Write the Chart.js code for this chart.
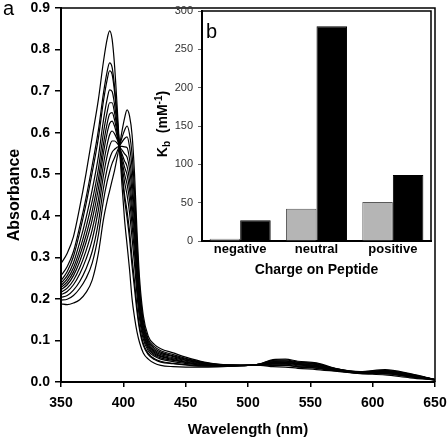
<!DOCTYPE html>
<html><head><meta charset="utf-8">
<script src="https://cdn.jsdelivr.net/npm/chart.js@4.4.0/dist/chart.umd.min.js"></script>
<style>
html,body{margin:0;padding:0;background:#fff;}
#wrap{position:relative;width:448px;height:442px;overflow:hidden;background:#fff;}
#main{position:absolute;left:0;top:0;}
#inset{position:absolute;left:140px;top:0;}
.lbl{position:absolute;font-family:'Liberation Sans',Arial,sans-serif;font-size:20px;line-height:20px;color:#000;}
</style></head><body>
<div id="wrap">
<canvas id="main" width="448" height="442" style="width:448px;height:442px"></canvas>
<canvas id="inset" width="300" height="290" style="width:300px;height:290px"></canvas>
<div class="lbl" style="left:3px;top:-2px">a</div>
<div class="lbl" style="left:206px;top:21px">b</div>
</div>
<script>
// ---- Panel a: absorbance spectra (wavelength in nm) ----
const wavelengths = [350,355,360,365,370,375,380,384,387,389,391,393,395,397,399,401,403,405,407,409,411,413,416,420,425,430,440,450,465,480,500,510,520,530,540,555,570,590,610,630,650];

const spectrum0  = [.285,.31,.35,.42,.50,.59,.68,.77,.825,.845,.825,.76,.665,.56,.47,.39,.33,.27,.20,.155,.12,.095,.07,.055,.045,.04,.037,.036,.036,.037,.04,.04,.037,.036,.033,.03,.026,.02,.017,.01,.005];
const spectrum1  = [.256,.278,.314,.374,.442,.521,.606,.694,.747,.768,.757,.710,.640,.562,.497,.439,.395,.344,.279,.224,.168,.126,.088,.066,.054,.048,.044,.041,.038,.038,.040,.041,.040,.040,.036,.033,.027,.021,.020,.012,.005];
const spectrum2  = [.244,.266,.302,.360,.427,.504,.587,.675,.727,.749,.740,.697,.634,.563,.504,.451,.411,.363,.299,.241,.180,.134,.093,.069,.056,.050,.045,.042,.039,.038,.040,.041,.041,.041,.037,.034,.028,.021,.020,.013,.005];
const spectrum3  = [.238,.256,.287,.336,.394,.462,.543,.629,.681,.703,.699,.667,.619,.564,.520,.481,.450,.407,.346,.283,.209,.152,.103,.075,.062,.055,.049,.045,.040,.039,.040,.041,.043,.043,.039,.036,.029,.022,.022,.014,.005];
const spectrum4  = [.232,.248,.275,.318,.371,.435,.513,.599,.649,.672,.672,.647,.609,.565,.531,.500,.476,.437,.378,.310,.228,.165,.111,.080,.065,.058,.052,.047,.041,.039,.040,.042,.045,.045,.041,.037,.029,.022,.023,.015,.005];
const spectrum5  = [.227,.241,.265,.304,.352,.411,.488,.572,.622,.645,.648,.630,.600,.565,.540,.517,.499,.462,.405,.334,.245,.176,.117,.084,.068,.061,.054,.048,.042,.040,.040,.042,.046,.046,.042,.038,.030,.023,.024,.015,.006];
const spectrum6  = [.222,.234,.256,.290,.335,.390,.465,.550,.599,.622,.628,.615,.592,.566,.548,.532,.519,.485,.429,.355,.259,.185,.122,.087,.071,.063,.056,.050,.043,.040,.040,.042,.047,.047,.043,.039,.030,.023,.025,.016,.006];
const spectrum7  = [.216,.226,.245,.275,.315,.366,.439,.523,.571,.595,.604,.597,.584,.567,.558,.549,.541,.511,.457,.379,.276,.196,.129,.091,.074,.066,.058,.052,.044,.040,.040,.043,.048,.048,.044,.040,.031,.023,.025,.017,.006];
const spectrum8  = [.210,.218,.234,.260,.295,.342,.414,.496,.544,.568,.580,.580,.575,.567,.567,.566,.564,.536,.484,.403,.293,.207,.135,.095,.077,.069,.061,.053,.045,.041,.040,.043,.049,.050,.045,.042,.031,.024,.026,.017,.006];
const spectrum9  = [.204,.208,.221,.242,.272,.314,.384,.466,.513,.537,.553,.560,.565,.568,.578,.586,.590,.566,.516,.431,.312,.219,.142,.099,.081,.072,.063,.055,.046,.041,.040,.043,.051,.051,.047,.043,.032,.024,.027,.018,.006];
const spectrum10 = [.197,.199,.208,.225,.249,.286,.354,.436,.482,.506,.526,.540,.555,.569,.589,.606,.616,.596,.548,.459,.331,.231,.149,.103,.085,.075,.066,.057,.047,.041,.040,.044,.052,.053,.048,.044,.032,.024,.028,.019,.006];
const spectrum11 = [.188,.186,.19,.198,.215,.245,.31,.39,.435,.46,.485,.51,.54,.57,.605,.635,.655,.64,.595,.50,.36,.25,.16,.11,.09,.08,.07,.06,.048,.042,.04,.044,.054,.055,.05,.046,.033,.025,.03,.02,.006];
const spectra = [spectrum0,spectrum1,spectrum2,spectrum3,spectrum4,spectrum5,spectrum6,spectrum7,spectrum8,spectrum9,spectrum10,spectrum11];

// ---- Panel b: binding constants ----
const chargeCategories = ['negative','neutral','positive'];
const kbGray  = [3, 42, 51];
const kbBlack = [27, 280, 86];

const FONT = "'Liberation Sans', Arial, Helvetica, sans-serif";
Chart.defaults.font.family = FONT;
Chart.defaults.color = '#000';

const frameMain = {
  id:'frameMain',
  afterDraw(chart){
    const {ctx, chartArea:a} = chart;
    ctx.save(); ctx.strokeStyle='#000'; ctx.lineWidth=1.5;
    ctx.beginPath(); ctx.moveTo(a.left, a.top); ctx.lineTo(a.right, a.top); ctx.lineTo(a.right, a.bottom); ctx.stroke();
    ctx.restore();
  }
};

new Chart(document.getElementById('main'), {
  type:'line',
  data:{
    datasets: spectra.map(s => ({
      data: s.map((v,i) => ({x: wavelengths[i], y: v})),
      borderColor:'#000', borderWidth:1.2, pointRadius:0, fill:false,
      cubicInterpolationMode:'monotone'
    }))
  },
  options:{
    responsive:false, animation:false, events:[],
    layout:{padding:{top:8, right:13, left:0, bottom:0}},
    plugins:{legend:{display:false}, tooltip:{enabled:false}},
    scales:{
      x:{type:'linear', min:350, max:650,
        ticks:{stepSize:50, color:'#000', font:{size:14, weight:'bold'}, padding:8, maxRotation:0, autoSkip:false},
        grid:{drawOnChartArea:false, drawTicks:true, tickLength:5, color:'#000', lineWidth:1.5},
        border:{display:true, color:'#000', width:2},
        title:{display:true, text:'Wavelength (nm)', color:'#000', font:{size:15, weight:'bold'}, padding:{top:0, bottom:3}},
        afterFit(s){ s.height = 60; s.paddingLeft = 0; s.paddingRight = 0; }
      },
      y:{type:'linear', min:0, max:0.9,
        ticks:{stepSize:0.1, color:'#000', font:{size:14, weight:'bold'}, padding:5, callback:v => Number(v).toFixed(1)},
        grid:{drawOnChartArea:false, drawTicks:true, tickLength:6, color:'#000', lineWidth:1.5},
        border:{display:true, color:'#000', width:2},
        title:{display:true, text:'Absorbance', color:'#000', font:{size:16, weight:'bold'}, padding:{top:5, bottom:0}},
        afterFit(s){ s.width = 61; s.paddingTop = 0; s.paddingBottom = 0; }
      }
    }
  },
  plugins:[frameMain]
});

const insetDeco = {
  id:'insetDeco',
  beforeDraw(chart){
    const {ctx, chartArea:a} = chart;
    ctx.save(); ctx.fillStyle='#fff'; ctx.fillRect(a.left, a.top, a.right-a.left, a.bottom-a.top); ctx.restore();
  },
  afterDraw(chart){
    const {ctx, chartArea:a} = chart;
    ctx.save(); ctx.strokeStyle='#000'; ctx.lineWidth=1.5;
    ctx.beginPath(); ctx.moveTo(a.left, a.top); ctx.lineTo(a.right, a.top); ctx.lineTo(a.right, a.bottom); ctx.stroke();
    // y axis title: K_b (mM^-1)
    ctx.translate(22, 124); ctx.rotate(-Math.PI/2);
    const big = "bold 14px " + FONT, small = "bold 10px " + FONT;
    const parts = [{t:'K',f:big,dy:0},{t:'b',f:small,dy:3},{t:'  (mM',f:big,dy:0},{t:'-1',f:small,dy:-5},{t:')',f:big,dy:0}];
    let total = 0;
    parts.forEach(p => { ctx.font = p.f; p.w = ctx.measureText(p.t).width; total += p.w; });
    let x = -total/2;
    ctx.fillStyle='#000'; ctx.textBaseline='alphabetic'; ctx.textAlign='left';
    parts.forEach(p => { ctx.font = p.f; ctx.fillText(p.t, x, 5 + p.dy); x += p.w; });
    ctx.restore();
  }
};

new Chart(document.getElementById('inset'), {
  type:'bar',
  data:{
    labels: chargeCategories,
    datasets:[
      {data: kbGray, backgroundColor:'#b5b5b5', borderColor:'#5a5a5a', borderWidth:1},
      {data: kbBlack, backgroundColor:'#000', borderColor:'#000', borderWidth:1}
    ]
  },
  options:{
    responsive:false, animation:false, events:[],
    layout:{padding:{top:11, right:9, left:0, bottom:0}},
    plugins:{legend:{display:false}, tooltip:{enabled:false}},
    datasets:{bar:{categoryPercentage:0.8, barPercentage:1}},
    scales:{
      x:{ticks:{color:'#000', font:{size:13, weight:'bold'}, padding:1},
        grid:{display:false, drawTicks:false},
        border:{display:true, color:'#000', width:2},
        title:{display:true, text:'Charge on Peptide', color:'#000', font:{size:14, weight:'bold'}, padding:{top:0, bottom:11}},
        afterFit(s){ s.height = 49; s.paddingLeft = 0; s.paddingRight = 0; }
      },
      y:{min:0, max:300,
        ticks:{stepSize:50, color:'#333', font:{size:11}, padding:5},
        grid:{drawOnChartArea:false, drawTicks:true, tickLength:4, color:'#666', lineWidth:1},
        border:{display:true, color:'#000', width:2},
        afterFit(s){ s.width = 62; s.paddingTop = 0; s.paddingBottom = 0; }
      }
    }
  },
  plugins:[insetDeco]
});
</script>
</body></html>
